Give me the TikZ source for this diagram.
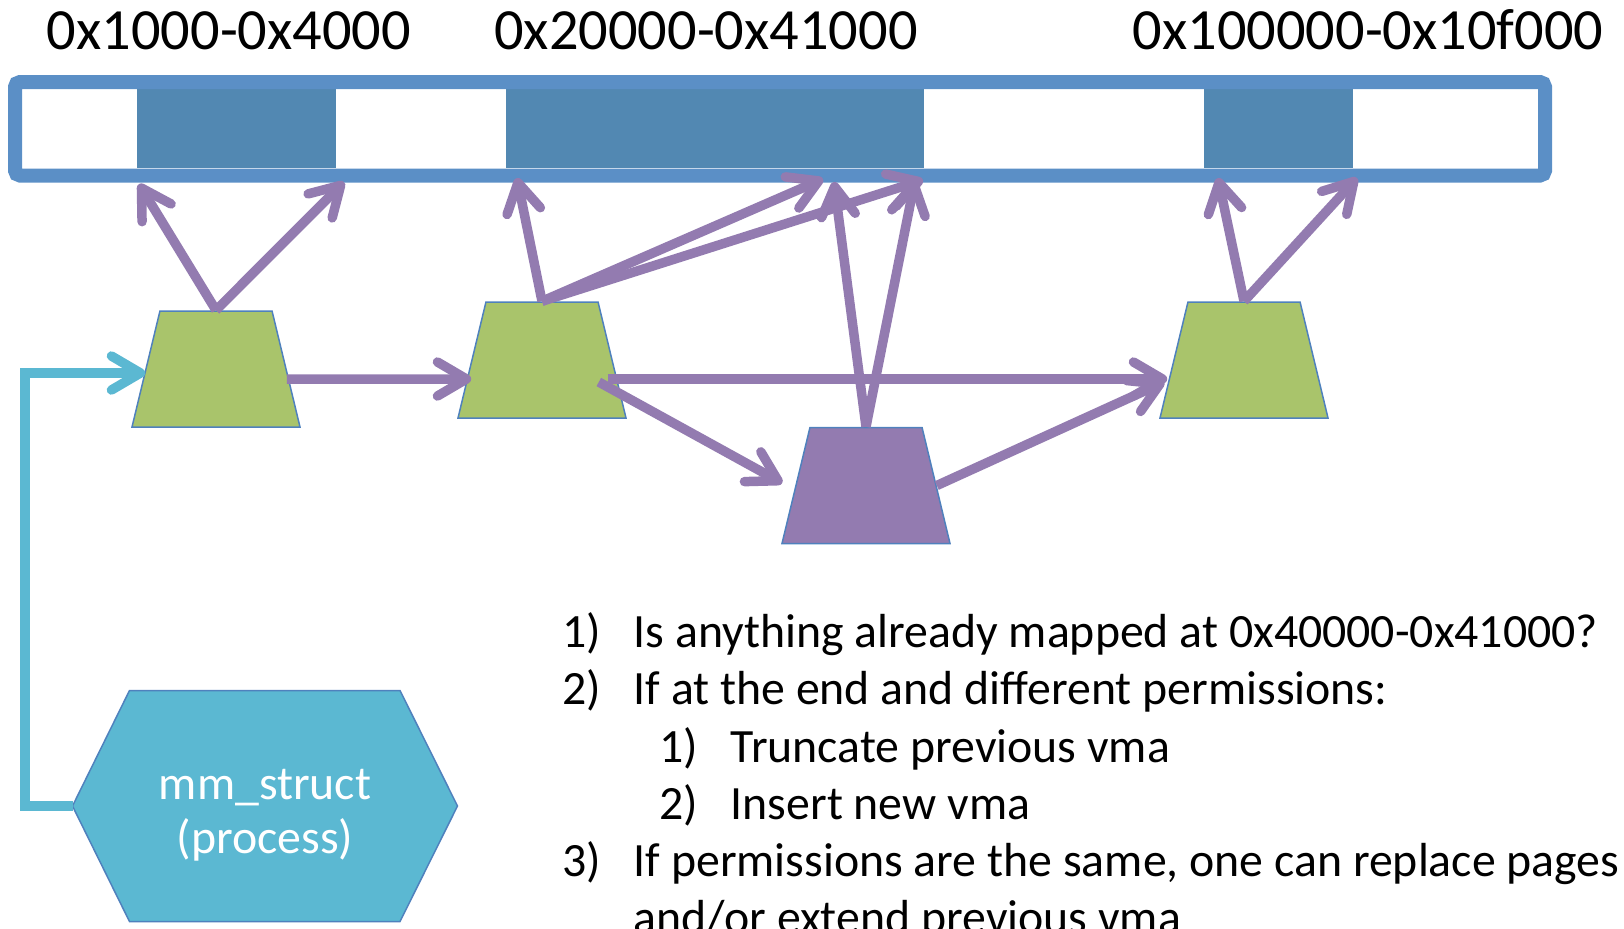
\documentclass[tikz,border=0pt]{standalone}
\usepackage{fontspec}
\setmainfont{Carlito}
\usetikzlibrary{shapes.geometric,arrows.meta}

\definecolor{barblue}{RGB}{91,143,198}
\definecolor{cellblue}{RGB}{82,136,178}
\definecolor{vmagreen}{RGB}{169,196,107}
\definecolor{vmapurple}{RGB}{147,123,176}
\definecolor{edgeblue}{RGB}{79,129,189}
\definecolor{mmcyan}{RGB}{91,184,210}

\tikzset{
  vma/.style={trapezium, trapezium angle=76, trapezium stretches=true,
    minimum width=16.8mm, minimum height=11.6mm, inner sep=2pt,
    draw=edgeblue, line width=0.15mm, fill=vmagreen},
  link/.style={vmapurple, line width=0.95mm,
    -{Straight Barb[round,length=2.9mm,width=3.4mm]}},
  addr/.style={anchor=base, inner sep=0pt, font=\fontsize{16.6}{20}\selectfont},
  item/.style={anchor=base west, inner sep=0pt, font=\fontsize{13.6}{16}\selectfont},
}

\begin{document}
\begin{tikzpicture}[x=0.1mm, y=-0.1mm]
    \useasboundingbox (0,0) rectangle (1624,928);
    \clip (0,0) rectangle (1624,928);

    % address ranges
    \node[addr] (l1) at (229,49) {0x1000-0x4000};
    \node[addr] (l2) at (706,49) {0x20000-0x41000};
    \node[addr] (l3) at (1368,49) {0x100000-0x10f000};

    % address space
    \fill[cellblue] (137,89) rectangle (336,168);
    \fill[cellblue] (506,89) rectangle (924,168);
    \fill[cellblue] (1204,89) rectangle (1353,168);
    \draw[barblue, line width=1.4mm, rounded corners=0.5mm] (15,82) rectangle (1545,175.5);

    \coordinate (a1) at (139,184);
    \coordinate (a2) at (344,182);
    \coordinate (b1) at (517,178);
    \coordinate (b2) at (823,179);
    \coordinate (b3) at (923,180);
    \coordinate (c1) at (834,182);
    \coordinate (c2) at (915,180);
    \coordinate (d1) at (1218,178);
    \coordinate (d2) at (1357,178);

    % vmas
    \node[vma] (t1) at (216,369) {};
    \node[vma] (t2) at (542,360) {};
    \node[vma, fill=vmapurple] (t3) at (866,485.5) {};
    \node[vma] (t4) at (1244,360) {};

    \draw[link] (t1.top side) -- (a1);
    \draw[link] (t1.top side) -- (a2);
    \draw[link] (t2.top side) -- (b1);
    \draw[link] (t2.top side) -- (b2);
    \draw[link] (t2.top side) -- (b3);
    \draw[link] (t3.top side) -- (c1);
    \draw[link] (t3.top side) -- (c2);
    \draw[link] (t4.top side) -- (d1);
    \draw[link] (t4.top side) -- (d2);

    \draw[link] ([yshift=-1mm]t1.right side) -- ([yshift=-1.9mm]t2.left side);
    \draw[link] ([xshift=-0.5mm,yshift=-1.9mm]t2.right side) -- ([xshift=-0.6mm,yshift=-1.9mm]t4.left side);
    \draw[link] ([xshift=-1.4mm,yshift=-2.2mm]t2.right side) -- ([xshift=-1.3mm,yshift=0.25mm]t3.left side);
    \draw[link] (t3.right side) -- ([xshift=-0.9mm,yshift=-2.2mm]t4.left side);

    % mm_struct
    \filldraw[fill=mmcyan, draw=edgeblue, line width=0.15mm] (72.5,806) coordinate (mmw)
        -- (129.5,690.5) -- (400,690.5) -- (457.5,806) -- (400,921.5) -- (129.5,921.5) -- cycle;
    \node[white, align=center, inner sep=0pt, font=\fontsize{13.6}{15.4}\selectfont] (mm) at (265,815) {mm\_struct\\(process)};
    \draw[mmcyan, line width=0.95mm, -{Straight Barb[round,length=2.9mm,width=3.4mm]}]
        (mmw) -- ++(-47.5,0) |- ([yshift=-0.4mm]t1.left side);

    % steps
    \node[item] (n1) at (562,647) {1)};
    \node[item] (s1) at (633,647) {Is anything already mapped at 0x40000-0x41000?};
    \node[item] (n2) at (562,704) {2)};
    \node[item] (s2) at (633,704) {If at the end and different permissions:};
    \node[item] (n21) at (659,762) {1)};
    \node[item] (s21) at (730,762) {Truncate previous vma};
    \node[item] (n22) at (659,819) {2)};
    \node[item] (s22) at (730,819) {Insert new vma};
    \node[item] (n3) at (562,876) {3)};
    \node[item] (s3) at (633,876) {If permissions are the same, one can replace pages};
    \node[item] (s3b) at (633,933) {and/or extend previous vma};
\end{tikzpicture}
\end{document}
